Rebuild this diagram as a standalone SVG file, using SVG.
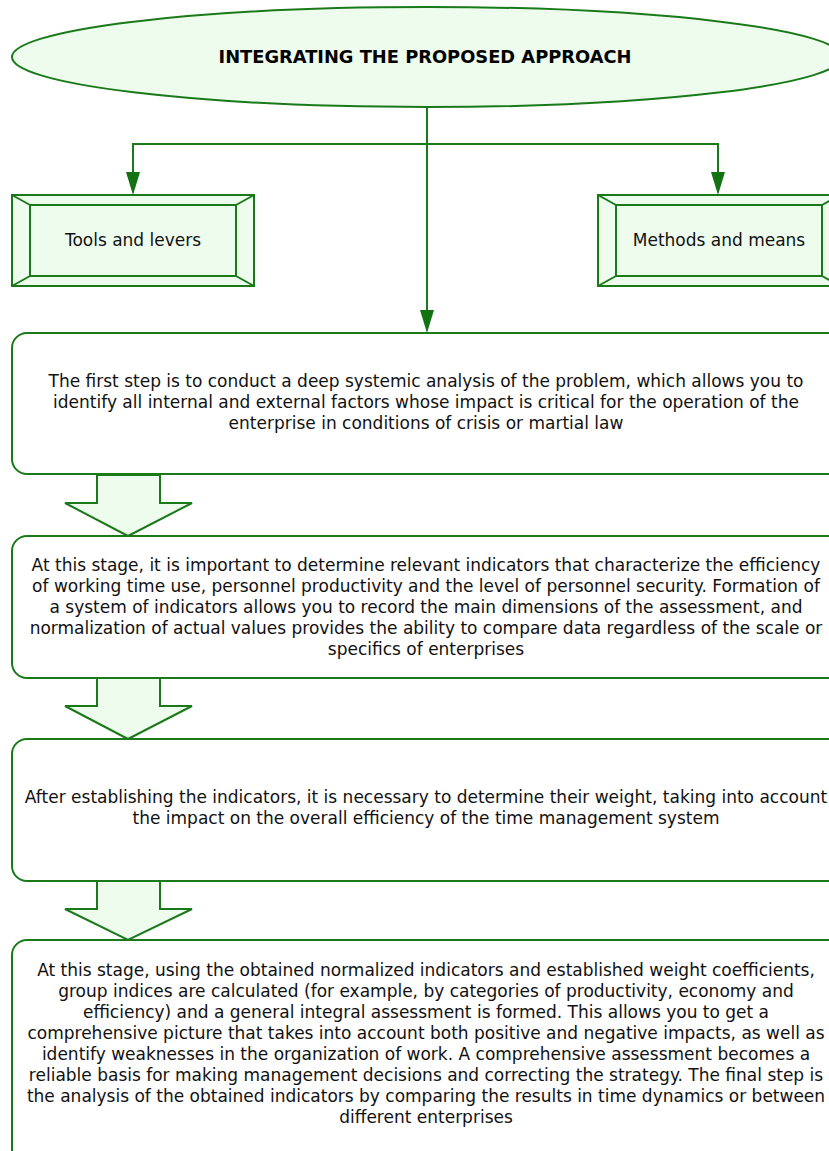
<svg xmlns="http://www.w3.org/2000/svg" width="829" height="1151" viewBox="0 0 829 1151">
<style>
.sh{fill:#eefcee;stroke:#1a7a1a;stroke-width:2}
.box{fill:#ffffff;stroke:#1a7a1a;stroke-width:2}
.ln{fill:none;stroke:#1a7a1a;stroke-width:2}
.t{font-family:"DejaVu Sans",sans-serif;font-size:17px;fill:#111;text-anchor:middle}
.tt{font-family:"DejaVu Sans",sans-serif;font-size:17.5px;font-weight:bold;fill:#000;text-anchor:middle}
</style>
<g id="title">
<ellipse class="sh" cx="427" cy="57" rx="415" ry="50"/>
<text class="tt" x="425" y="63" textLength="413" lengthAdjust="spacingAndGlyphs">INTEGRATING THE PROPOSED APPROACH</text>
</g>
<g id="tools">
<rect class="sh" x="12" y="195" width="242" height="91"/>
<rect class="sh" x="30" y="205" width="206" height="71"/>
<path class="ln" d="M12,195 L30,205 M254,195 L236,205 M12,286 L30,276 M254,286 L236,276"/>
<text class="t" x="133" y="246">Tools and levers</text>
</g>
<g id="methods">
<rect class="sh" x="598" y="195" width="242" height="91"/>
<rect class="sh" x="616" y="205" width="206" height="71"/>
<path class="ln" d="M598,195 L616,205 M840,195 L822,205 M598,286 L616,276 M840,286 L822,276"/>
<text class="t" x="719" y="246">Methods and means</text>
</g>
<g id="connectors">
<path class="ln" d="M427,108 V144 H133 V172"/>
<path d="M126,172 H140 L133,195 Z" fill="#137313"/>
<path class="ln" d="M427,144 H718 V172"/>
<path d="M711,172 H725 L718,195 Z" fill="#137313"/>
<path class="ln" d="M427,144 V310"/>
<path d="M420,310 H434 L427,333 Z" fill="#137313"/>
</g>
<g id="step1">
<rect class="box" x="12" y="333" width="831" height="141" rx="15"/>
<text class="t"><tspan x="426" y="387">The first step is to conduct a deep systemic analysis of the problem, which allows you to</tspan><tspan x="426" y="408">identify all internal and external factors whose impact is critical for the operation of the</tspan><tspan x="426" y="429">enterprise in conditions of crisis or martial law</tspan></text>
</g>
<g id="arrow1">
<polygon class="sh" points="97,475 160,475 160,503 192,503 128,536 65,503 97,503"/>
</g>
<g id="step2">
<rect class="box" x="12" y="536" width="831" height="142" rx="15"/>
<text class="t"><tspan x="426" y="571">At this stage, it is important to determine relevant indicators that characterize the efficiency</tspan><tspan x="426" y="592">of working time use, personnel productivity and the level of personnel security. Formation of</tspan><tspan x="426" y="613">a system of indicators allows you to record the main dimensions of the assessment, and</tspan><tspan x="426" y="634">normalization of actual values provides the ability to compare data regardless of the scale or</tspan><tspan x="426" y="655">specifics of enterprises</tspan></text>
</g>
<g id="arrow2">
<polygon class="sh" points="97,678 160,678 160,706 192,706 128,739 65,706 97,706"/>
</g>
<g id="step3">
<rect class="box" x="12" y="739" width="831" height="142" rx="15"/>
<text class="t"><tspan x="426" y="803">After establishing the indicators, it is necessary to determine their weight, taking into account</tspan><tspan x="426" y="824">the impact on the overall efficiency of the time management system</tspan></text>
</g>
<g id="arrow3">
<polygon class="sh" points="97,881 160,881 160,909 192,909 128,940 65,909 97,909"/>
</g>
<g id="step4">
<rect class="box" x="12" y="940" width="831" height="240" rx="15"/>
<text class="t"><tspan x="426" y="976">At this stage, using the obtained normalized indicators and established weight coefficients,</tspan><tspan x="426" y="997">group indices are calculated (for example, by categories of productivity, economy and</tspan><tspan x="426" y="1018">efficiency) and a general integral assessment is formed. This allows you to get a</tspan><tspan x="426" y="1039">comprehensive picture that takes into account both positive and negative impacts, as well as</tspan><tspan x="426" y="1060">identify weaknesses in the organization of work. A comprehensive assessment becomes a</tspan><tspan x="426" y="1081">reliable basis for making management decisions and correcting the strategy. The final step is</tspan><tspan x="426" y="1102">the analysis of the obtained indicators by comparing the results in time dynamics or between</tspan><tspan x="426" y="1123">different enterprises</tspan></text>
</g>
</svg>
